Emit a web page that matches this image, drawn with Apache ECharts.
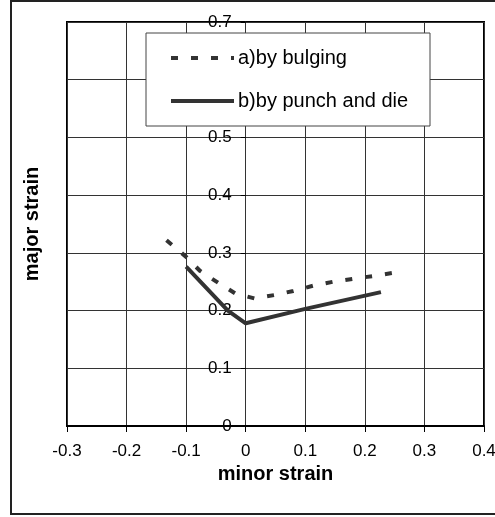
<!DOCTYPE html>
<html>
<head>
<meta charset="utf-8">
<script src="https://cdn.jsdelivr.net/npm/echarts@6/dist/echarts.min.js"></script>
<style>
html,body{margin:0;padding:0;background:#fff;}
#chart{width:495px;height:517px;}
</style>
</head>
<body>
<div id="chart"></div>
<script>
// Data
const seriesNames = ['a)by bulging', 'b)by punch and die'];
const bulgingX = [-0.133, -0.1, -0.077, -0.046, -0.018, 0.015, 0.049, 0.08, 0.113, 0.147, 0.18, 0.215, 0.258];
const bulgingY = [0.322, 0.293, 0.269, 0.248, 0.23, 0.221, 0.227, 0.234, 0.243, 0.25, 0.255, 0.26, 0.267];
const punchX = [-0.1, -0.03, 0, 0.1, 0.227];
const punchY = [0.276, 0.2, 0.178, 0.203, 0.232];
const xTicks = [-0.3, -0.2, -0.1, 0, 0.1, 0.2, 0.3, 0.4];
const yTicks = [0, 0.1, 0.2, 0.3, 0.4, 0.5, 0.6, 0.7];
const xName = 'minor strain';
const yName = 'major strain';

const FONT = 'Liberation Sans, Arial, sans-serif';
const pair = (xs, ys) => xs.map((x, i) => [x, ys[i]]);

const GRID = { left: 67, right: 11, top: 22, bottom: 91 };
const W = 495;
const plotW = W - GRID.left - GRID.right;
// y axis drawn where minor strain = 0 (offset computed from the x range)
const yAxisOffset = -plotW * (0 - xTicks[0]) / (xTicks[xTicks.length - 1] - xTicks[0]);

const chart = echarts.init(document.getElementById('chart'));
chart.setOption({
  animation: false,
  backgroundColor: '#fff',
  textStyle: { fontFamily: FONT, color: '#000' },
  graphic: [
    { type: 'rect', z: 0, shape: { x: 11, y: 1, width: 520, height: 513 },
      style: { fill: 'none', stroke: '#222', lineWidth: 2 } },
    { type: 'rect', z: 50, shape: { x: 146, y: 33, width: 284, height: 93 },
      style: { fill: '#fff', stroke: '#444', lineWidth: 1 } }
  ],
  grid: Object.assign({
    show: true, borderColor: '#000', borderWidth: 2,
    outerBoundsMode: 'none'
  }, GRID),
  legend: {
    z: 60,
    orient: 'vertical',
    left: 169, top: 48,
    padding: 0,
    itemWidth: 63, itemHeight: 14, itemGap: 23,
    itemStyle: { opacity: 0 },
    lineStyle: { width: 4 },
    textStyle: { fontFamily: FONT, fontSize: 20, color: '#000', padding: [0, 0, 0, -1] },
    data: seriesNames
  },
  xAxis: {
    type: 'value',
    min: xTicks[0], max: xTicks[xTicks.length - 1], interval: 0.1,
    name: xName, nameLocation: 'middle', nameGap: 37,
    nameTextStyle: { fontFamily: FONT, fontSize: 20, fontWeight: 'bold', color: '#000' },
    axisLine: { show: true, onZero: false, lineStyle: { color: '#000', width: 2 } },
    axisTick: { show: true, length: 6, lineStyle: { color: '#000', width: 1 } },
    axisLabel: { fontFamily: FONT, fontSize: 17, color: '#000', margin: 17,
      formatter: v => String(Math.round(v * 10) / 10) },
    splitLine: { show: true, lineStyle: { color: '#333', width: 1 } }
  },
  yAxis: {
    type: 'value', position: 'left', offset: yAxisOffset,
    min: yTicks[0], max: yTicks[yTicks.length - 1], interval: 0.1,
    name: yName, nameLocation: 'middle', nameGap: 203,
    nameTextStyle: { fontFamily: FONT, fontSize: 20, fontWeight: 'bold', color: '#000' },
    axisLine: { show: true, onZero: false, lineStyle: { color: '#333', width: 1 } },
    axisTick: { show: true, length: 5, lineStyle: { color: '#000' } },
    axisLabel: { fontFamily: FONT, fontSize: 17, color: '#000', margin: 14,
      formatter: v => String(Math.round(v * 10) / 10) },
    splitLine: { show: true, lineStyle: { color: '#333', width: 1 } }
  },
  series: [
    {
      name: seriesNames[0], type: 'line', symbol: 'none', z: 3,
      data: pair(bulgingX, bulgingY),
      lineStyle: { color: '#333', width: 4, type: [7, 13] },
      itemStyle: { color: '#333' }
    },
    {
      name: seriesNames[1], type: 'line', symbol: 'none', z: 3,
      data: pair(punchX, punchY),
      lineStyle: { color: '#333', width: 4, type: 'solid' },
      itemStyle: { color: '#333' }
    }
  ]
});
</script>
</body>
</html>
